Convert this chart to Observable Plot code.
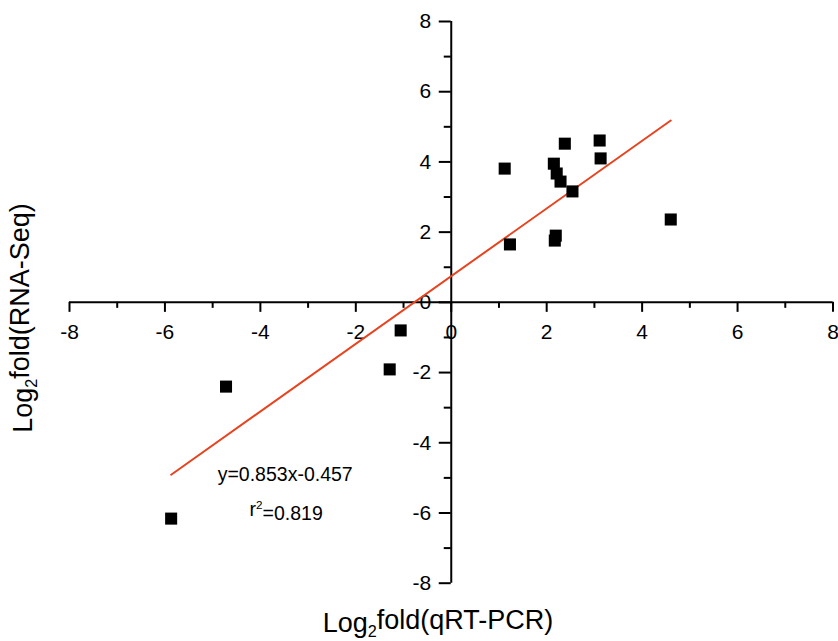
<!DOCTYPE html>
<html>
<head>
<meta charset="utf-8">
<script src="https://cdn.jsdelivr.net/npm/d3@7"></script>
<script src="https://cdn.jsdelivr.net/npm/@observablehq/plot@0.6"></script>
<style>
  html, body { margin: 0; padding: 0; background: #fff; }
  svg { font-family: "Liberation Sans", Arial, sans-serif; display: block; }
</style>
</head>
<body>
<div id="chart"></div>
<script>
// qRT-PCR log2 fold (x) vs RNA-Seq log2 fold (y)
const qrtPcr = [-5.87, -4.72, -1.29, -1.06, 1.12, 1.23, 2.15, 2.21, 2.29, 2.54, 2.38, 3.11, 3.13, 2.19, 2.17, 4.60];
const rnaSeq = [-6.16, -2.40, -1.91, -0.80, 3.81, 1.65, 3.95, 3.67, 3.44, 3.16, 4.52, 4.61, 4.10, 1.90, 1.76, 2.36];

// fitted line as drawn
const fitX = [-5.87, 4.60];
const fitY = [-4.91, 5.18];

const majorTicks = [-8, -6, -4, -2, 0, 2, 4, 6, 8];
const minorTicks = [-7, -5, -3, -1, 1, 3, 5, 7];
const xTickLabels = ["-8", "-6", "-4", "-2", "0", "2", "4", "6", "8"];
const yTickLabels = ["-8", "-6", "-4", "-2", "0", "2", "4", "6", "8"];

const equationText = "y=0.853x-0.457";
const r2Text = "r2=0.819";
const xTitle = "Log2fold(qRT-PCR)";
const yTitle = "Log2fold(RNA-Seq)";

const points = qrtPcr.map((x, i) => ({x, y: rnaSeq[i]}));
const fit = fitX.map((x, i) => ({x, y: fitY[i]}));
const majors = majorTicks.map((v, i) => ({v, xl: xTickLabels[i], yl: yTickLabels[i]}));

const zero = () => 0;

const chart = Plot.plot({
  width: 838,
  height: 641,
  marginLeft: 69,
  marginRight: 5.5,
  marginTop: 21,
  marginBottom: 58.3,
  x: {domain: [-8, 8], axis: null},
  y: {domain: [-8, 8], axis: null},
  style: {fontFamily: '"Liberation Sans", Arial, sans-serif', background: "#fff"},
  marks: [
    // axes through origin
    Plot.ruleY([0], {x1: -8, x2: 8, stroke: "black", strokeWidth: 2}),
    Plot.ruleX([0], {y1: -8, y2: 8, stroke: "black", strokeWidth: 2}),
    // x ticks (downward)
    Plot.ruleX(majors, {x: "v", y1: zero, y2: zero, insetBottom: -10, stroke: "black", strokeWidth: 2}),
    Plot.ruleX(minorTicks, {x: d => d, y1: zero, y2: zero, insetBottom: -6, stroke: "black", strokeWidth: 2}),
    // y ticks (leftward)
    Plot.ruleY(majors, {y: "v", x1: zero, x2: zero, insetLeft: -12, stroke: "black", strokeWidth: 2}),
    Plot.ruleY(minorTicks, {y: d => d, x1: zero, x2: zero, insetLeft: -7, stroke: "black", strokeWidth: 2}),
    // tick labels
    Plot.text(majors, {x: "v", y: zero, text: "xl", dy: 30, fontSize: 21, fill: "black"}),
    Plot.text(majors, {y: "v", x: zero, text: "yl", dx: -20, textAnchor: "end", fontSize: 21, fill: "black"}),
    // fit line
    Plot.line(fit, {x: "x", y: "y", stroke: "#e8431e", strokeWidth: 2}),
    // data points
    Plot.dot(points, {x: "x", y: "y", symbol: "square", r: 6.8, fill: "black", stroke: "none"}),
    // annotations
    Plot.text([equationText], {x: () => -3.48, y: () => -4.90, text: d => d, fontSize: 19.5, fill: "black"}),
    Plot.text([r2Text], {x: () => -3.46, y: () => -5.90, text: d => d, fontSize: 19.5, fill: "black", className: "r2"}),
  ]
});

// axis titles placed in the SVG
const svg = d3.select(chart);
svg.append("text")
  .attr("class", "xtitle")
  .attr("x", 438).attr("y", 632)
  .attr("text-anchor", "middle")
  .attr("font-size", 27)
  .text(xTitle);
svg.append("text")
  .attr("class", "ytitle")
  .attr("transform", "translate(32,318) rotate(-90)")
  .attr("text-anchor", "middle")
  .attr("font-size", 27)
  .text(yTitle);

// turn "Log2" into Log with subscript 2, "r2" into r with superscript 2
function subscript(sel, prefix) {
  sel.each(function() {
    const t = d3.select(this);
    const s = t.text();
    if (!s.startsWith(prefix + "2")) return;
    const rest = s.slice(prefix.length + 1);
    t.text(null);
    t.append("tspan").text(prefix);
    t.append("tspan").attr("font-size", "0.6em").attr("dy", "0.3em").text("2");
    t.append("tspan").attr("dy", "-0.3em").text(rest);
  });
}
function superscript(sel, prefix) {
  sel.each(function() {
    const t = d3.select(this);
    const s = t.text();
    if (!s.startsWith(prefix + "2")) return;
    const rest = s.slice(prefix.length + 1);
    t.text(null);
    t.append("tspan").text(prefix);
    t.append("tspan").attr("font-size", "0.6em").attr("dy", "-0.55em").text("2");
    t.append("tspan").attr("dy", "0.55em").text(rest);
  });
}
subscript(svg.selectAll("text.xtitle, text.ytitle"), "Log");
superscript(svg.selectAll(".r2 text"), "r");

document.getElementById("chart").appendChild(chart);
</script>
</body>
</html>
